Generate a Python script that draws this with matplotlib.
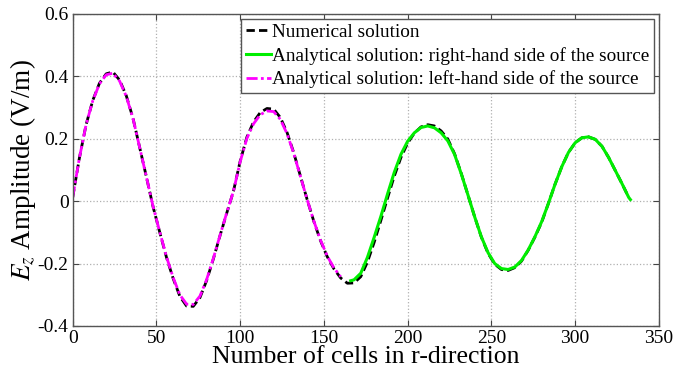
import numpy as np
import matplotlib
matplotlib.use("Agg")
import matplotlib.pyplot as plt

# E_z along the radial line (cells), sampled every 4 cells
x_num = [0, 4, 8, 12, 16, 20, 24, 28, 32, 36, 40, 44, 48, 52, 56, 60, 64, 68,
         72, 76, 80, 84, 88, 92, 96, 100, 104, 108, 112, 116, 120, 124, 128,
         132, 136, 140, 144, 148, 152, 156, 160, 164, 168, 172, 176, 180, 184,
         188, 192, 196, 200, 204, 208, 212, 216, 220, 224, 228, 232, 236, 240,
         244, 248, 252, 256, 260, 264, 268, 272, 276, 280, 284, 288, 292, 296,
         300, 304, 308, 312, 316, 320, 324, 328, 332]
ez_num = [0.012, 0.138, 0.245, 0.323, 0.378, 0.408, 0.414, 0.388, 0.338, 0.266,
          0.172, 0.078, -0.018, -0.100, -0.180, -0.248, -0.305, -0.336, -0.337,
          -0.309, -0.254, -0.185, -0.110, -0.038, 0.032, 0.128, 0.205, 0.254,
          0.284, 0.297, 0.295, 0.268, 0.220, 0.155, 0.080, 0.005, -0.065,
          -0.127, -0.178, -0.217, -0.246, -0.263, -0.262, -0.242, -0.195,
          -0.132, -0.062, 0.010, 0.080, 0.140, 0.186, 0.218, 0.238, 0.245,
          0.241, 0.225, 0.199, 0.152, 0.089, 0.020, -0.050, -0.115, -0.167,
          -0.202, -0.219, -0.222, -0.213, -0.192, -0.157, -0.115, -0.068,
          -0.008, 0.054, 0.110, 0.156, 0.187, 0.203, 0.206, 0.198, 0.176,
          0.140, 0.098, 0.056, 0.012]

# analytical solution, right-hand side of the source
x_right = [166, 168, 172, 176, 180, 184, 188, 192, 196, 200, 204, 208, 212, 216,
           220, 224, 228, 232, 236, 240, 244, 248, 252, 256, 260, 264, 268, 272,
           276, 280, 284, 288, 292, 296, 300, 304, 308, 312, 316, 320, 324, 328,
           332, 333]
ez_right = [-0.255, -0.252, -0.231, -0.180, -0.116, -0.049, 0.023, 0.092, 0.150,
            0.192, 0.219, 0.236, 0.241, 0.235, 0.219, 0.193, 0.150, 0.088, 0.020,
            -0.050, -0.114, -0.165, -0.200, -0.216, -0.219, -0.211, -0.190, -0.156,
            -0.114, -0.066, -0.008, 0.054, 0.110, 0.156, 0.187, 0.203, 0.206,
            0.198, 0.176, 0.140, 0.098, 0.056, 0.012, 0.005]

# analytical solution, left-hand side of the source
x_left = [0, 4, 8, 12, 16, 20, 24, 28, 32, 36, 40, 44, 48, 52, 56, 60, 64, 68,
          72, 76, 80, 84, 88, 92, 96, 100, 104, 108, 112, 116, 120, 124, 128,
          132, 136, 140, 144, 148, 152, 156, 160]
ez_left = [0.012, 0.138, 0.245, 0.322, 0.376, 0.405, 0.410, 0.385, 0.336, 0.265,
           0.172, 0.078, -0.017, -0.099, -0.178, -0.245, -0.300, -0.330, -0.331,
           -0.304, -0.251, -0.183, -0.109, -0.037, 0.032, 0.126, 0.201, 0.248,
           0.277, 0.289, 0.287, 0.262, 0.216, 0.153, 0.079, 0.005, -0.064,
           -0.125, -0.176, -0.214, -0.242]

plt.rcParams['font.family'] = ['Liberation Serif', 'DejaVu Serif']
plt.rcParams['mathtext.fontset'] = 'stix'

fig = plt.figure(figsize=(6.73, 3.76), dpi=100)
ax = fig.add_axes([0.108, 0.133, 0.871, 0.830])

ax.plot(x_num, ez_num, color='black', linestyle='--', linewidth=2.0,
        dashes=(3, 1.5), label='Numerical solution')
ax.plot(x_right, ez_right, color='#00ee00', linestyle='-', linewidth=2.2,
        label='Analytical solution: right-hand side of the source')
ax.plot(x_left, ez_left, color='magenta', linewidth=2.0,
        dashes=(4, 1.2, 1, 1.2), label='Analytical solution: left-hand side of the source')

ax.set_xlim(0, 350)
ax.set_ylim(-0.4, 0.6)
ax.set_xticks(np.arange(0, 351, 50))
ax.set_yticks(np.arange(-0.4, 0.61, 0.2))
ax.set_yticklabels(['-0.4', '-0.2', '0', '0.2', '0.4', '0.6'])

ax.grid(True, linestyle=':', color='#b0b0b0', linewidth=0.9)
ax.tick_params(direction='in', top=True, right=True, labelsize=14, length=4,
               color='#444444', pad=3)
for s in ax.spines.values():
    s.set_color('#555555')
    s.set_linewidth(1.0)

ax.set_xlabel('Number of cells in r-direction', fontsize=18.5, labelpad=-1)
ax.set_ylabel('$E_z$ Amplitude (V/m)', fontsize=19.5, labelpad=0)

leg = ax.legend(loc='upper right', fontsize=13.9, handlelength=1.3,
                handletextpad=0.05, borderpad=0.25, labelspacing=0.3,
                borderaxespad=0.25, fancybox=False, framealpha=1)
leg.get_frame().set_edgecolor('#555555')
leg.get_frame().set_linewidth(1.0)

fig.savefig('out.png', dpi=100)
